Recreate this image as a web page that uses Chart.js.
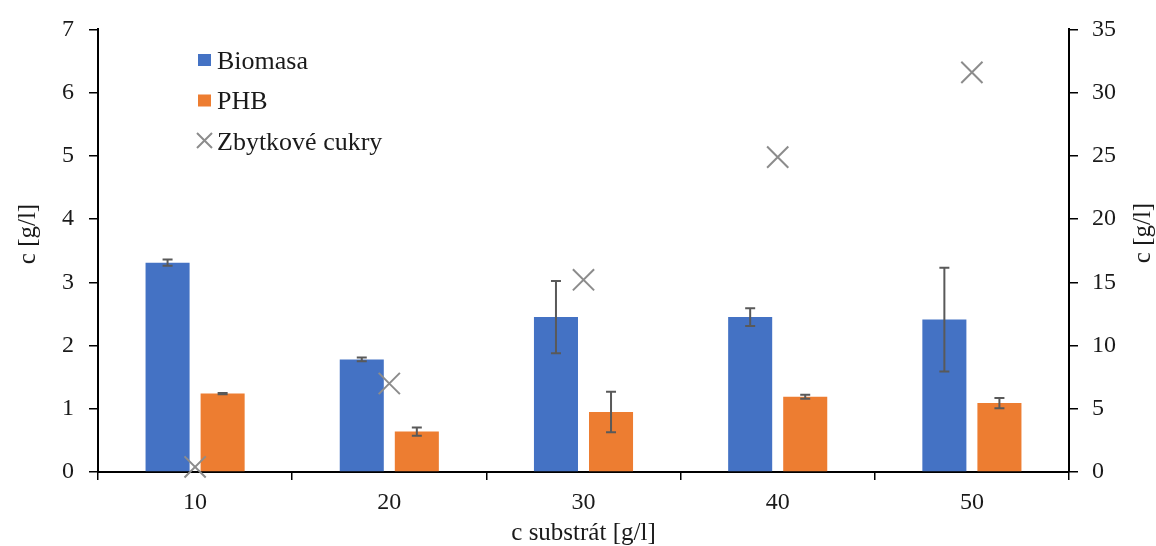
<!DOCTYPE html>
<html>
<head>
<meta charset="utf-8">
<script src="https://cdn.jsdelivr.net/npm/chart.js@4.4.1/dist/chart.umd.min.js"></script>
<style>
  html, body { margin: 0; padding: 0; background: #ffffff; }
  #wrap { width: 1156px; height: 546px; }
</style>
</head>
<body>
<div id="wrap"><canvas id="chart" width="1156" height="546"></canvas></div>
<script>
// Substrate concentration groups (x axis)
const substrate = ['10', '20', '30', '40', '50'];
// Biomass and PHB concentration [g/l] with standard deviations
const biomass = [3.31, 1.78, 2.45, 2.45, 2.41];
const biomassErr = [0.05, 0.03, 0.57, 0.14, 0.82];
const phb = [1.24, 0.64, 0.95, 1.19, 1.09];
const phbErr = [0.01, 0.065, 0.32, 0.03, 0.08];
// Residual sugars [g/l] on the secondary axis
const residualSugar = [0.4, 7.0, 15.2, 24.9, 31.6];
// Axis ranges
const leftMax = 7, leftStep = 1;
const rightMax = 35, rightStep = 5;

const SERIF = "'Liberation Serif', 'Times New Roman', serif";
const TEXT = '#1a1a1a';
const BLUE = '#4472C4';
const ORANGE = '#ED7D31';
const GREY = '#8C8C8C';

// Error bars drawn from the bar datasets' own scale
const errorBars = {
  id: 'errorBars',
  afterDatasetsDraw(chart) {
    const ctx = chart.ctx;
    const y = chart.scales.y;
    ctx.save();
    ctx.strokeStyle = '#595959';
    ctx.lineWidth = 2;
    chart.data.datasets.forEach((ds, i) => {
      if (!ds.errors) return;
      const meta = chart.getDatasetMeta(i);
      meta.data.forEach((bar, j) => {
        const v = ds.data[j], e = ds.errors[j];
        const top = y.getPixelForValue(v + e);
        const bot = y.getPixelForValue(v - e);
        const x = bar.x;
        ctx.beginPath();
        ctx.moveTo(x, top); ctx.lineTo(x, bot);
        ctx.moveTo(x - 5, top); ctx.lineTo(x + 5, top);
        ctx.moveTo(x - 5, bot); ctx.lineTo(x + 5, bot);
        ctx.stroke();
      });
    });
    ctx.restore();
  }
};

// Axis titles and the legend block inside the plot
const annotations = {
  id: 'annotations',
  afterDraw(chart) {
    const ctx = chart.ctx;
    const area = chart.chartArea;
    ctx.save();
    ctx.fillStyle = TEXT;
    ctx.font = '25px ' + SERIF;
    ctx.textAlign = 'center';
    ctx.textBaseline = 'middle';
    // x title
    ctx.fillText('c substrát [g/l]', (area.left + area.right) / 2, 533);
    // left title
    ctx.save();
    ctx.translate(28, 234);
    ctx.rotate(-Math.PI / 2);
    ctx.fillText('c [g/l]', 0, 0);
    ctx.restore();
    // right title
    ctx.save();
    ctx.translate(1143, 233);
    ctx.rotate(-Math.PI / 2);
    ctx.fillText('c [g/l]', 0, 0);
    ctx.restore();

    // legend
    const items = [
      { label: chart.data.datasets[1].label, color: BLUE, kind: 'box' },
      { label: chart.data.datasets[2].label, color: ORANGE, kind: 'box' },
      { label: chart.data.datasets[0].label, color: GREY, kind: 'cross' }
    ];
    ctx.font = '26px ' + SERIF;
    ctx.textAlign = 'left';
    ctx.textBaseline = 'alphabetic';
    items.forEach((it, k) => {
      const cy = 60 + k * 40.5;
      if (it.kind === 'box') {
        ctx.fillStyle = it.color;
        ctx.fillRect(198, cy - 6, 13, 12);
      } else {
        ctx.strokeStyle = it.color;
        ctx.lineWidth = 2;
        ctx.beginPath();
        ctx.moveTo(197, cy - 8); ctx.lineTo(212, cy + 7);
        ctx.moveTo(212, cy - 8); ctx.lineTo(197, cy + 7);
        ctx.stroke();
      }
      ctx.fillStyle = TEXT;
      ctx.fillText(it.label, 217, cy + 8.5);
    });
    ctx.restore();
  }
};

new Chart(document.getElementById('chart'), {
  type: 'bar',
  data: {
    labels: substrate,
    datasets: [
      {
        type: 'line',
        label: 'Zbytkové cukry',
        data: residualSugar,
        yAxisID: 'y1',
        showLine: false,
        clip: false,
        pointStyle: 'crossRot',
        pointRadius: 15,
        pointBorderWidth: 2,
        pointBorderColor: GREY,
        pointBackgroundColor: GREY,
        borderColor: GREY
      },
      {
        label: 'Biomasa',
        data: biomass,
        errors: biomassErr,
        backgroundColor: BLUE,
        yAxisID: 'y',
        categoryPercentage: 0.567,
        barPercentage: 0.8
      },
      {
        label: 'PHB',
        data: phb,
        errors: phbErr,
        backgroundColor: ORANGE,
        yAxisID: 'y',
        categoryPercentage: 0.567,
        barPercentage: 0.8
      }
    ]
  },
  options: {
    responsive: false,
    animation: false,
    events: [],
    devicePixelRatio: 1,
    layout: { padding: { top: 27, left: 0, right: 0, bottom: 0 } },
    plugins: {
      legend: { display: false },
      tooltip: { enabled: false }
    },
    scales: {
      x: {
        afterFit(s) { s.height = 74; },
        grid: {
          display: true, drawOnChartArea: false, drawTicks: true,
          tickLength: 8, color: '#000', lineWidth: 1.5, offset: true
        },
        border: { display: true, color: '#000', width: 2 },
        ticks: { color: TEXT, font: { family: SERIF, size: 24 }, padding: 8, maxRotation: 0 }
      },
      y: {
        position: 'left',
        min: 0, max: leftMax,
        afterFit(s) { s.width = 98; },
        grid: {
          display: true, drawOnChartArea: false, drawTicks: true,
          tickLength: 9, color: '#000', lineWidth: 1.5
        },
        border: { display: true, color: '#000', width: 2 },
        ticks: { stepSize: leftStep, color: TEXT, font: { family: SERIF, size: 24 }, padding: 15 }
      },
      y1: {
        position: 'right',
        min: 0, max: rightMax,
        afterFit(s) { s.width = 87; },
        grid: {
          display: true, drawOnChartArea: false, drawTicks: true,
          tickLength: 9, color: '#000', lineWidth: 1.5
        },
        border: { display: true, color: '#000', width: 2 },
        ticks: { stepSize: rightStep, color: TEXT, font: { family: SERIF, size: 24 }, padding: 14 }
      }
    }
  },
  plugins: [errorBars, annotations]
});
</script>
</body>
</html>
